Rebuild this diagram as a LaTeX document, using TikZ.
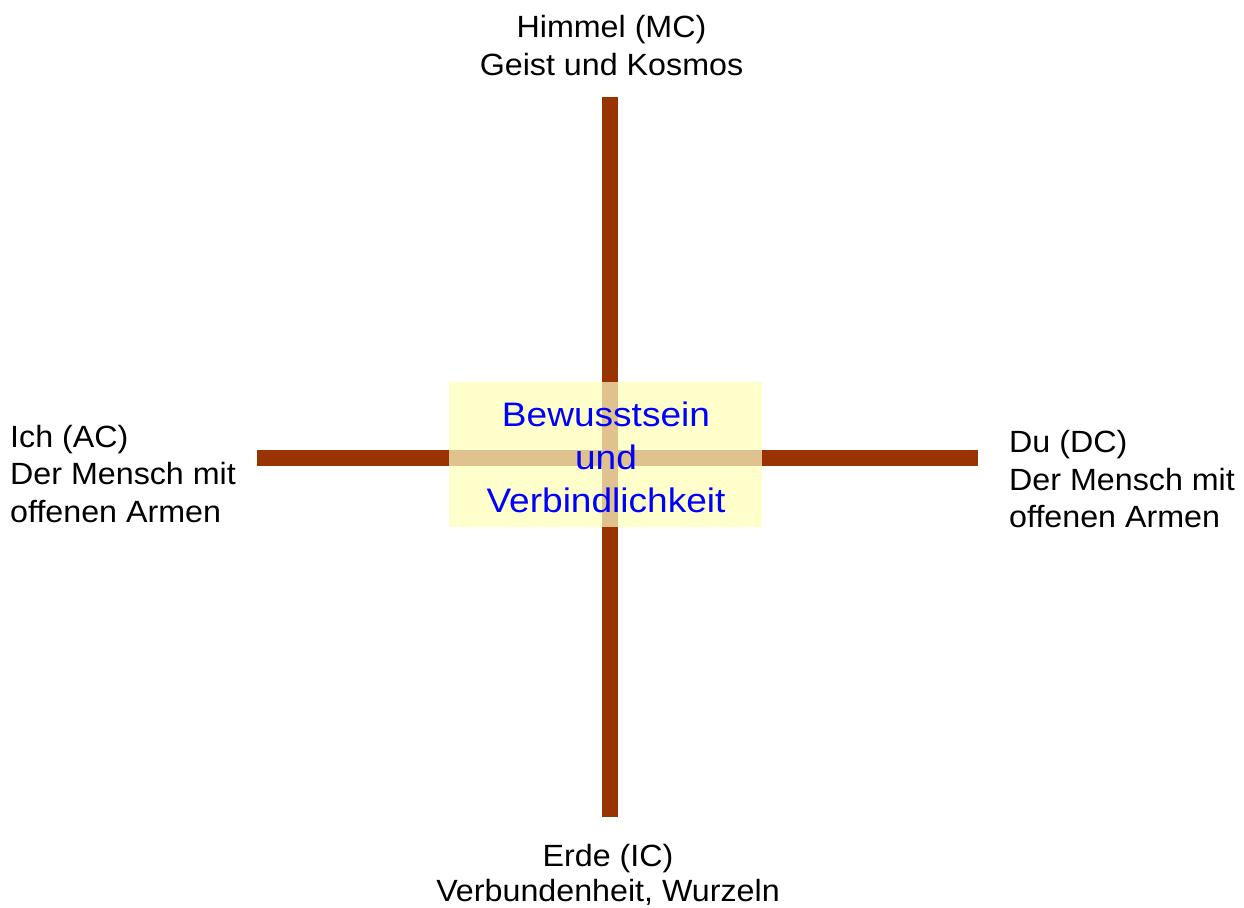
\documentclass[tikz,border=0pt]{standalone}
\usepackage{fontspec}
\newfontfamily\lblfont{Liberation Sans}[FakeStretch=1.05]
\newfontfamily\ctrfont{Liberation Sans}[FakeStretch=1.09]
\definecolor{barbrown}{HTML}{993300}
\definecolor{boxyellow}{HTML}{FFFFCC}
\definecolor{bartan}{RGB}{224,194,143}
\definecolor{ctrblue}{HTML}{0000FF}
\tikzset{
  bar/.style={draw=barbrown, line width=16pt},
  innerbar/.style={draw=bartan, line width=16pt},
  lbl/.style={inner sep=0pt, text=black, font=\lblfont\fontsize{30.7}{37.5}\selectfont},
  ctrbox/.style={fill=boxyellow, draw=none, inner sep=0pt},
  ctrtext/.style={inner sep=0pt, text=ctrblue, align=center, font=\ctrfont\fontsize{34}{43}\selectfont}
}
\begin{document}
\begin{tikzpicture}[x=1pt,y=-1pt]
\useasboundingbox (0,0) rectangle (1244,907);
% bar end points
\coordinate (top) at (610,97);
\coordinate (bottom) at (610,817);
\coordinate (left) at (257,458);
\coordinate (right) at (978,458);
\draw[bar] (top) -- (bottom);
\draw[bar] (left) -- (right);
% centre box
\node[ctrbox, minimum width=313pt, minimum height=145pt] (box) at (605.5,454.5) {};
\coordinate (bt) at (610,382);
\coordinate (bb) at (610,527);
\coordinate (bl) at (449,458);
\coordinate (br) at (762,458);
\draw[innerbar] (bt) -- (bb);
\draw[innerbar] (bl) -- (br);
\node[ctrtext, anchor=north] (ctr) at (606,402) {Bewusstsein\\und\\Verbindlichkeit};
% labels
\node[lbl, align=center, anchor=north, font=\lblfont\fontsize{30.7}{38}\selectfont] (mc) at (611.5,14.6) {Himmel (MC)\\Geist und Kosmos};
\node[lbl, align=left, anchor=north west] (ac) at (10,424.6) {Ich (AC)\\Der Mensch mit\\offenen Armen};
\node[lbl, align=left, anchor=north west] (dc) at (1009,430.3) {Du (DC)\\Der Mensch mit\\offenen Armen};
\node[lbl, align=center, anchor=north, font=\lblfont\fontsize{30.7}{35.5}\selectfont] (ic) at (608,843.6) {Erde (IC)\\Verbundenheit, Wurzeln};
\end{tikzpicture}
\end{document}
